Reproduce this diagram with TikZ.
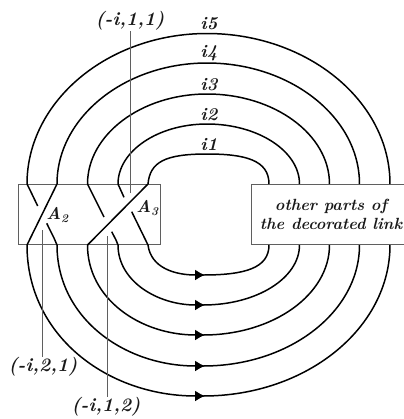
\documentclass[tikz,border=0pt]{standalone}
\usepackage{xcolor}
\usepackage{tikz}
\usetikzlibrary{arrows.meta, calc}
\definecolor{mydark}{RGB}{25,25,25}
\definecolor{mygrey}{RGB}{95,95,95}
\tikzset{
  strand/.style={line width=1.5pt, color=black},
  arrowstrand/.style={strand, -{Latex[length=10bp,width=11bp]}},
  partbox/.style={rectangle, draw=mygrey, line width=0.9pt, minimum height=60.5bp, inner sep=0pt, outer sep=0pt, text=mydark, align=center, font=\bfseries\itshape\fontsize{16.2bp}{19bp}\selectfont},
  leader/.style={line width=0.9pt, color=mygrey},
  tag/.style={inner sep=0pt, text=mydark, font=\bfseries\itshape\fontsize{19bp}{21bp}\selectfont},
  cornertag/.style={tag, font=\bfseries\itshape\fontsize{17bp}{19bp}\selectfont},
  ringtag/.style={tag, font=\bfseries\itshape\fontsize{18bp}{20bp}\selectfont}
}
\begin{document}
\begin{tikzpicture}[x=1bp, y=-1bp]
  \useasboundingbox (0,0) rectangle (404,419);
  % Boxes
  \node[partbox, minimum width=142bp] (boxA) at (89,214.5) {};
  \node[partbox, minimum width=160bp] (boxB) at (331,214.5) {other parts of\\the decorated link};
  \node[cornertag] (labA2) at (57.5,215) {A\textsubscript{2}};
  \node[cornertag] (labA3) at (147.5,208) {A\textsubscript{3}};

  % Outer rings, top and bottom
  \foreach \xl/\xr/\yt/\yb/\nm in {118/299.5/124/305/i2, 87.5/329.5/94/335/i3, 57/359.5/63/366/i4, 27/390/33.5/396/i5} {
    \draw[strand] (\xl,184) .. controls ($(\xl,184)!0.55!(\xl,\yt)$) and ($(207,\yt)!0.55!(\xl,\yt)$) .. (207,\yt)
      .. controls ($(207,\yt)!0.55!(\xr,\yt)$) and ($(\xr,184)!0.55!(\xr,\yt)$) .. (\xr,184);
    \draw[arrowstrand] (\xl,245) .. controls ($(\xl,245)!0.6!(\xl,\yb)$) and ($(205,\yb)!0.55!(\xl,\yb)$) .. (205,\yb);
    \draw[strand] (203,\yb) .. controls ($(205,\yb)!0.55!(\xr,\yb)$) and ($(\xr,245)!0.55!(\xr,\yb)$) .. (\xr,245);
    \node[ringtag] (lab\nm) at (209,\yt-9.5) {\nm};
  }

  % Inner ring
  \draw[strand] (148,184) .. controls (150,162) and (165,154) .. (207,154) .. controls (245,154) and (269,160) .. (269,184);
  \draw[arrowstrand] (148,245) .. controls (151,268) and (175,275) .. (205,275);
  \draw[strand] (203,275) .. controls (245,275) and (269,268) .. (269,245);
  \node[ringtag] (labi1) at (209,144.5) {i1};

  % Crossings
  \draw[strand] (57,184) -- (27,245);
  \draw[strand] (27,184) -- (30,190) -- (37.7,206);
  \draw[strand] (46.7,223.3) -- (54,238) -- (57,245);
  \draw[strand] (148,184) -- (87.5,245);
  \draw[strand] (87.5,184) -- (104,217);
  \draw[strand] (111.7,231.7) -- (116,240) -- (118,245);
  \draw[strand] (118,184) -- (124,197.3);
  \draw[strand] (131.7,211.7) -- (148,245);

  % Leaders
  \node[tag] (pt11) at (130,21) {(-i,1,1)};
  \node[tag] (pt21) at (43,367) {(-i,2,1)};
  \node[tag] (pt12) at (106,407) {(-i,1,2)};
  \coordinate (end11) at (130,193);
  \coordinate (end21) at (42,230);
  \coordinate (end12) at (107,236);
  \draw[leader] (end11) -- (end11 |- pt11.south);
  \draw[leader] (end21) -- (end21 |- pt21.north);
  \draw[leader] (end12) -- (end12 |- pt12.north);
\end{tikzpicture}
\end{document}
